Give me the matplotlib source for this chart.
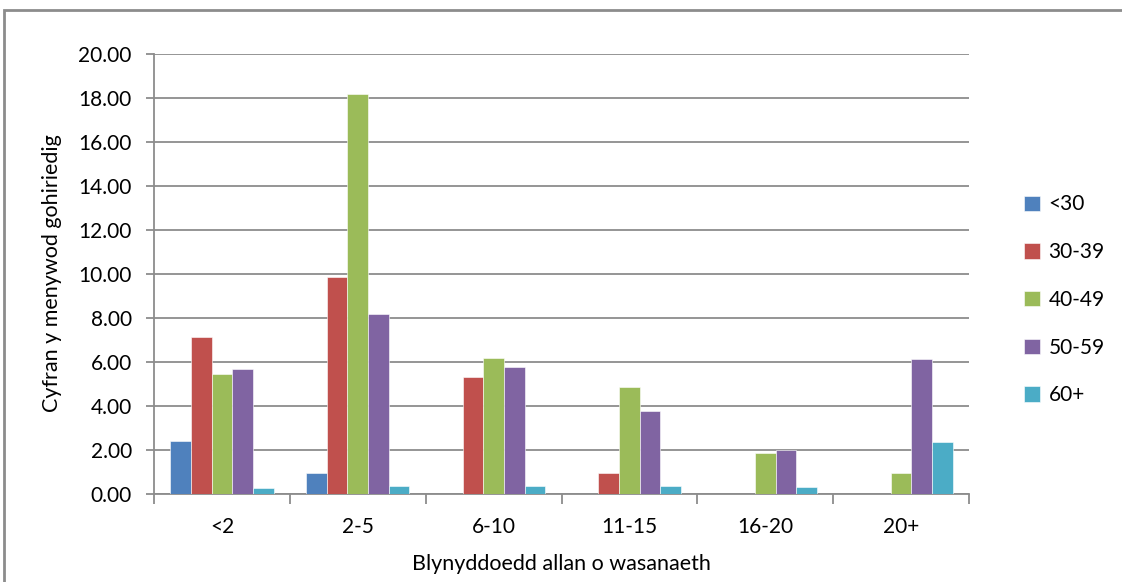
import numpy as np
import matplotlib
matplotlib.use('Agg')
from matplotlib import pyplot as plt
from matplotlib.patches import Rectangle

plt.rcParams['font.family'] = ['Lato', 'DejaVu Sans']

# categories and series
categories = ['<2', '2-5', '6-10', '11-15', '16-20', '20+']
series_names = ['<30', '30-39', '40-49', '50-59', '60+']
vals_lt30 = [2.40, 0.95, 0.0, 0.0, 0.0, 0.0]
vals_30_39 = [7.12, 9.85, 5.30, 0.94, 0.0, 0.0]
vals_40_49 = [5.42, 18.18, 6.17, 4.83, 1.86, 0.94]
vals_50_59 = [5.65, 8.18, 5.77, 3.73, 1.97, 6.10]
vals_60plus = [0.23, 0.36, 0.36, 0.36, 0.30, 2.32]

all_vals = [vals_lt30, vals_30_39, vals_40_49, vals_50_59, vals_60plus]
colors = ['#4F81BD', '#C0504D', '#9BBB59', '#8064A2', '#4BACC6']

fig = plt.figure(figsize=(11.22, 5.82), dpi=100)
ax = fig.add_axes([154/1122, 1-493.5/582, (969-154)/1122, (493.5-53.5)/582])

x = np.arange(len(categories))
w = 0.152
for i, (vals, c, name) in enumerate(zip(all_vals, colors, series_names)):
    ax.bar(x + (i - 2) * w, vals, width=w, color=c, label=name,
           edgecolor='white', linewidth=0.4, zorder=3)

ax.set_xlim(-0.5, len(categories) - 0.5)
ax.set_ylim(0, 20)
ax.set_yticks(np.arange(0, 21, 2))
ax.set_yticklabels([f'{v:.2f}' for v in np.arange(0, 21, 2)], fontsize=15)
ax.grid(axis='y', color='#8c8c8c', linewidth=1.3, zorder=0)

ax.set_xticks(x)
ax.set_xticklabels(categories, fontsize=15)
ax.set_xticks(np.arange(-0.5, len(categories), 1), minor=True)
ax.tick_params(axis='x', which='major', length=0, pad=17)
ax.tick_params(axis='x', which='minor', length=7, width=1.3, color='#8c8c8c')
ax.tick_params(axis='y', length=6, width=1.3, color='#8c8c8c', pad=10)

for s in ['top', 'right']:
    ax.spines[s].set_visible(False)
for s in ['left', 'bottom']:
    ax.spines[s].set_color('#8c8c8c')
    ax.spines[s].set_linewidth(1.3)

ax.set_ylabel('Cyfran y menywod gohiriedig', fontsize=15.5, labelpad=12)
ax.set_xlabel('Blynyddoedd allan o wasanaeth', fontsize=15.5, labelpad=12)

ax.legend(loc='center left', bbox_to_anchor=(1.045, 0.44), frameon=False,
          fontsize=15, labelspacing=1.33, handlelength=0.75, handleheight=0.75,
          handletextpad=0.4)

# chart border
fig.patches.append(Rectangle((4/1122, -0.1), 1.2, 1.1 - 10/582,
                             transform=fig.transFigure, fill=False,
                             edgecolor='#8c8c8c', linewidth=2))

fig.savefig('out.png', dpi=100)
